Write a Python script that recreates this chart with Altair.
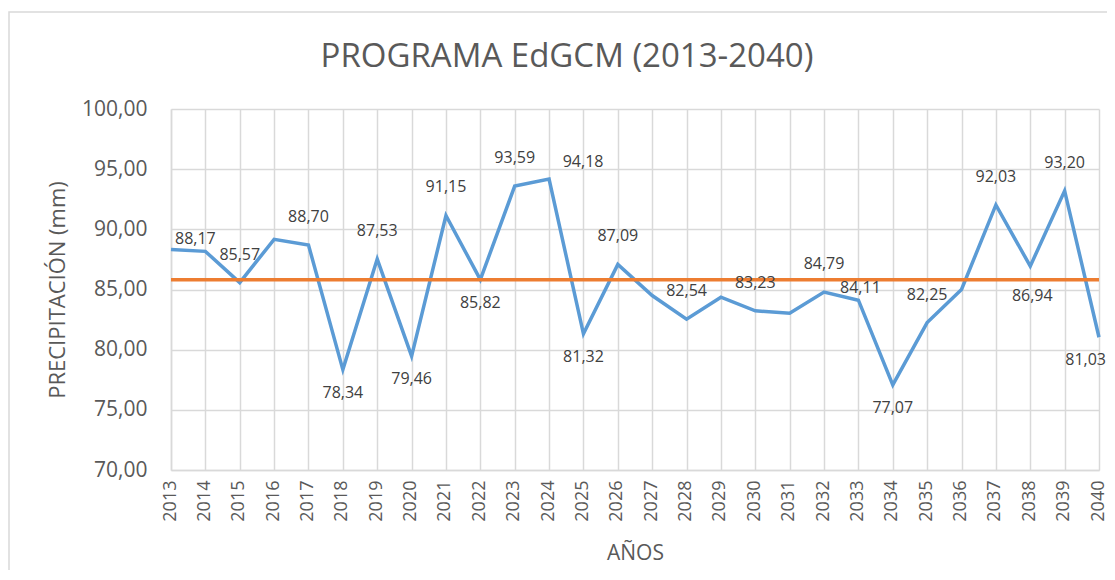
import altair as alt
import pandas as pd

# ---- data ----
years = [str(y) for y in range(2013, 2041)]
precip = [88.33, 88.17, 85.57, 89.17, 88.70, 78.34, 87.53, 79.46, 91.15, 85.82,
          93.59, 94.18, 81.32, 87.09, 84.50, 82.54, 84.36, 83.23, 83.03, 84.79,
          84.11, 77.07, 82.25, 85.00, 92.03, 86.94, 93.20, 81.03]
y_ticks = [70, 75, 80, 85, 90, 95, 100]

# which years carry a data label, grouped by where the label sits
above_years = ["2015", "2017", "2019", "2021", "2023", "2026", "2028", "2030",
               "2032", "2035", "2037", "2039"]
below_years = ["2018", "2020", "2022", "2025", "2034"]
lastbelow_years = ["2040"]
upleft_years = ["2014"]
upright_years = ["2024"]
nearabove_years = ["2033"]
farbelow_years = ["2038"]

title_text = "PROGRAMA EdGCM (2013-2040)"
x_title = "AÑOS"
y_title = "PRECIPITACIÓN (mm)"

df = pd.DataFrame({"year": years, "precip": precip})

W, H = 928, 361
FONT = "Open Sans"
GREY = "#595959"
GRID = "#d9d9d9"

x_enc = alt.X(
    "year:O",
    scale=alt.Scale(type="point", padding=0),
    axis=alt.Axis(
        title=x_title, labelAngle=270, labelAlign="right", labelBaseline="middle",
        labelPadding=10, labelFontSize=18, labelColor=GREY, labelFont=FONT,
        labelOffset=-1,
        ticks=False, grid=True, gridColor=GRID, gridWidth=1.5,
        domainColor=GRID, domainWidth=1.5,
        titleFontSize=21, titleFont=FONT, titleColor=GREY, titleFontWeight="normal",
        titleY=83, titleBaseline="middle",
    ),
)
y_enc = alt.Y(
    "precip:Q",
    scale=alt.Scale(domain=[70, 100], nice=False, zero=False),
    axis=alt.Axis(
        values=y_ticks, title=y_title,
        labelExpr="replace(format(datum.value, '.2f'), '.', ',')",
        labelFontSize=21, labelColor=GREY, labelFont=FONT, labelPadding=24,
        ticks=False, grid=True, gridColor=GRID, gridWidth=1.5,
        domainColor=GRID, domainWidth=1.5,
        titleFontSize=22, titleFont=FONT, titleColor=GREY, titleFontWeight="normal",
        titleX=-114, titleY=H / 2, titleAngle=270, titleBaseline="middle",
        titleAlign="center",
    ),
)

base = alt.Chart(df)

line = base.mark_line(color="#5b9bd5", strokeWidth=3.5).encode(x=x_enc, y=y_enc)

mean_rule = base.mark_rule(color="#ed7d31", strokeWidth=3.5).encode(
    y=alt.Y("mean(precip):Q")
)


def labels(yrs, dx, dy, align="center"):
    return (
        base.transform_filter(alt.FieldOneOfPredicate(field="year", oneOf=yrs))
        .transform_calculate(lbl="replace(format(datum.precip, '.2f'), '.', ',')")
        .mark_text(font=FONT, fontSize=16, color="#404040", dx=dx, dy=dy,
                   baseline="middle", align=align)
        .encode(x=alt.X("year:O"), y=alt.Y("precip:Q"), text="lbl:N")
    )


txt = (labels(above_years, 0, -28) + labels(below_years, 0, 23)
       + labels(lastbelow_years, 7, 23, "right")
       + labels(upleft_years, -10, -12) + labels(upright_years, 34, -17)
       + labels(nearabove_years, 2, -12) + labels(farbelow_years, 2, 30))

frame = alt.Chart(alt.Data(values=[{}])).mark_rect(
    filled=False, stroke=GRID, strokeWidth=1.5
).encode(x=alt.value(-162), x2=alt.value(W + 200), y=alt.value(-97), y2=alt.value(H + 300))

title = alt.Chart(alt.Data(values=[{"t": title_text}])).mark_text(
    font=FONT, fontSize=33, color=GREY, align="center", baseline="middle"
).encode(x=alt.value(396), y=alt.value(-52), text="t:N")

chart = (
    alt.layer(frame, line, mean_rule, txt, title)
    .properties(width=W, height=H,
                autosize=alt.AutoSizeParams(type="none"),
                padding={"left": 163, "top": 101, "right": 8, "bottom": 100})
    .configure_view(stroke=None)
)

chart.save("out.html", embed_options={"renderer": "svg", "actions": False})
